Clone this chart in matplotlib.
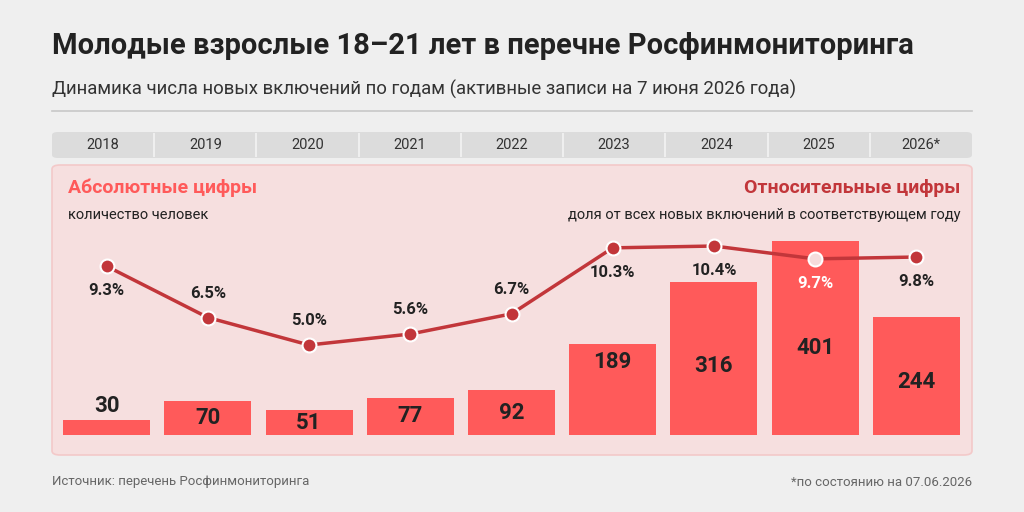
import matplotlib.pyplot as plt
from matplotlib.patches import FancyBboxPatch

years = ['2018', '2019', '2020', '2021', '2022', '2023', '2024', '2025', '2026*']
counts = [30, 70, 51, 77, 92, 189, 316, 401, 244]
shares = [9.3, 6.5, 5.0, 5.6, 6.7, 10.3, 10.4, 9.7, 9.8]

BG = '#efefef'
BAR = '#ff5a5a'
LINE = '#c2363a'
PANEL = '#f6dfdf'
DARK = '#222222'
W, H = 1024, 512

plt.rcParams['font.family'] = ['Roboto', 'DejaVu Sans']
fig = plt.figure(figsize=(W / 100, H / 100), dpi=100, facecolor=BG)


def fx(px):
    return px / W


def fy(py):
    return 1 - py / H


fig.text(fx(52), fy(46), 'Молодые взрослые 18–21 лет в перечне Росфинмониторинга',
         fontsize=21, fontweight='bold', color=DARK, va='center', ha='left')
fig.text(fx(52), fy(89), 'Динамика числа новых включений по годам (активные записи на 7 июня 2026 года)',
         fontsize=13.4, color='#333333', va='center', ha='left')
fig.add_artist(plt.Line2D([fx(52), fx(972)], [fy(111), fy(111)], color='#c8c8c8', lw=1.2))

# year header
fig.add_artist(FancyBboxPatch((fx(52), fy(158)), fx(920), 26 / H, boxstyle='round,pad=0,rounding_size=0.006',
                              fc='#dcdcdc', ec='none', transform=fig.transFigure))
col = 920 / len(years)
for i, y in enumerate(years):
    fig.text(fx(52 + col * (i + 0.5)), fy(145), y, fontsize=10.5, color='#333333', ha='center', va='center')
    if i:
        fig.add_artist(plt.Line2D([fx(52 + col * i)] * 2, [fy(134), fy(156)], color=BG, lw=1.5))

# panel
fig.add_artist(FancyBboxPatch((fx(52), fy(455)), fx(920), 290 / H, boxstyle='round,pad=0,rounding_size=0.008',
                              fc=PANEL, ec='#f3c9c9', lw=1.2, transform=fig.transFigure, zorder=-1))

ax = fig.add_axes([fx(56), fy(455), fx(911), 290 / H])
ax.set_facecolor('none')
ax.set_xlim(-0.5, len(years) - 0.5)
ax.set_ylim(-41.3, 558)
ax.axis('off')
x = range(len(years))
ax.bar(x, counts, width=0.86, color=BAR, zorder=2)
for i, v in enumerate(counts):
    if v < 50:
        ax.text(i, v + 8, str(v), ha='center', va='bottom', fontsize=16, fontweight='bold', color=DARK)
    else:
        ax.text(i, v / 2 if v < 100 else max(v * 0.45, 150) if v < 200 else v * 0.45, str(v),
                ha='center', va='center', fontsize=16, fontweight='bold', color=DARK)

ax2 = ax.twinx()
ax2.set_ylim(-1.0, 14.82)
ax2.axis('off')
ax2.plot(x, shares, color=LINE, lw=2.5, zorder=3)
for i, p in enumerate(shares):
    white = i == 7
    ax2.plot(i, p, 'o', ms=10, mfc='#f6dcdc' if white else LINE, mec='white', mew=1.5, zorder=4)
    above = 1 <= i <= 4
    ax2.annotate(f'{p}%', (i, p), xytext=(0, 12 if above else -12), textcoords='offset points',
                 ha='center', va='bottom' if above else 'top', fontsize=12, fontweight='bold',
                 color='white' if white else DARK, zorder=5)

fig.text(fx(68), fy(188), 'Абсолютные цифры', fontsize=14, fontweight='bold', color=BAR, va='center')
fig.text(fx(68), fy(215), 'количество человек', fontsize=10.5, color=DARK, va='center')
fig.text(fx(960), fy(188), 'Относительные цифры', fontsize=14, fontweight='bold', color=LINE, va='center', ha='right')
fig.text(fx(960), fy(215), 'доля от всех новых включений в соответствующем году', fontsize=10.5, color=DARK,
         va='center', ha='right')

fig.text(fx(52), fy(482), 'Источник: перечень Росфинмониторинга', fontsize=9.5, color='#666666', va='center')
fig.text(fx(972), fy(482), '*по состоянию на 07.06.2026', fontsize=9.5, color='#666666', va='center', ha='right')

fig.savefig('out.png', dpi=100, facecolor=BG)
